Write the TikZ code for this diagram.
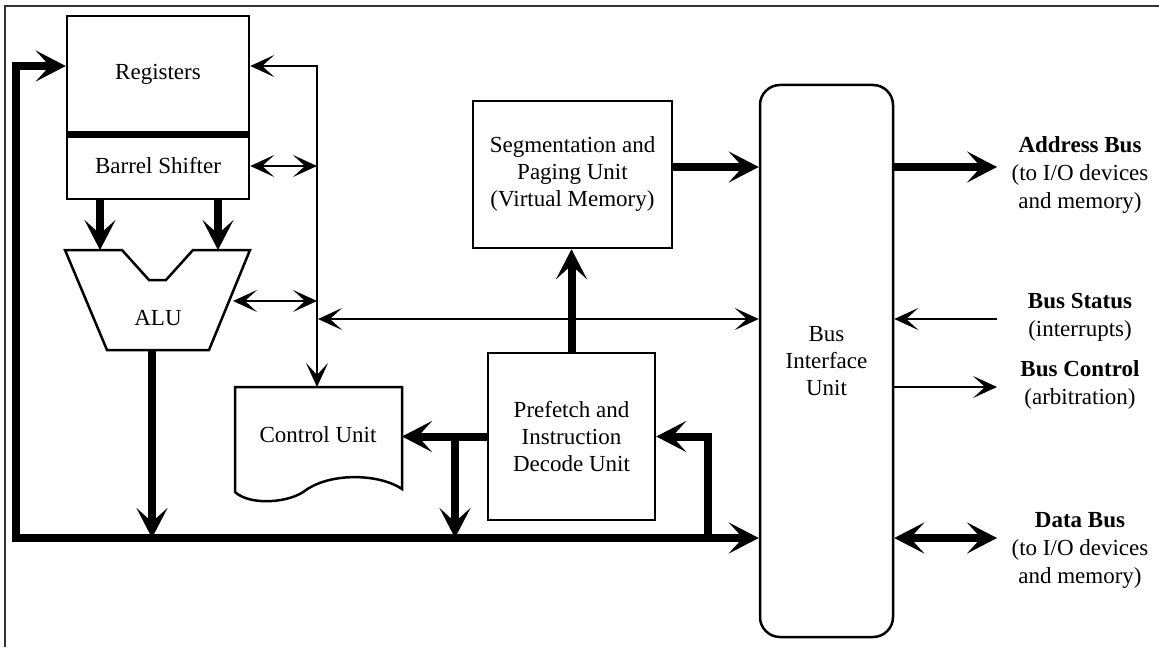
\documentclass[tikz,border=0pt]{standalone}
\usepackage{fontspec}
\setmainfont{Liberation Serif}
\usetikzlibrary{arrows.meta,positioning}
\definecolor{framegray}{HTML}{333333}

\begin{document}
\begin{tikzpicture}[x=0.5pt,y=-0.5pt,
    font=\fontsize{11.5pt}{13.5pt}\selectfont,
    unit/.style={draw,line width=1.25pt,align=center,inner sep=0pt},
    wire/.style={line width=1pt,>={Stealth[length=12pt,width=11pt,inset=6pt]}},
    bus/.style={line width=4pt,>={Stealth[length=15pt,width=15.5pt,inset=7pt]}},
    buslabel/.style={align=center,font=\fontsize{11.5pt}{14pt}\selectfont}]
  \useasboundingbox (0,0) rectangle (1159,647);
  \draw[framegray,line width=1pt] (5,647) -- (5,6) -- (1159,6);

  % registers, shifter and ALU
  \node[unit,minimum width=91pt,minimum height=58.5pt] (reg) at (158,74.5) {Registers};
  \node[unit,minimum width=91pt,minimum height=33pt] (bs) at (158,166) {Barrel Shifter};
  \draw[line width=3.5pt] (reg.south west) -- (reg.south east);
  \draw[line width=1.25pt] (65,250) -- (122,250) -- (149,280) -- (166,280) -- (193,250)
    -- (250,250) -- (209,350) -- (107,350) -- cycle;
  \node (alu) at (158,318) {ALU};
  \coordinate (aluTop) at (158,250);
  \coordinate (aluOut) at (152,350);
  \coordinate (aluR) at (233,301);

  % control unit
  \draw[line width=1.25pt] (235,492) -- (235,387) -- (402,387) -- (402,489)
    .. controls (380,474) and (332,472) .. (306,490)
    .. controls (290,503) and (250,506) .. (235,492) -- cycle;
  \node (cu) at (318,435) {Control Unit};
  \coordinate (cuTop) at (317,387);
  \coordinate (cuR) at (402,437);

  % prefetch, paging, bus interface
  \node[unit,minimum width=83.5pt,minimum height=83.5pt] (pf) at (571.5,436.5) {Prefetch and\\Instruction\\Decode Unit};
  \node[unit,minimum width=99.5pt,minimum height=73.5pt] (seg) at (572.5,174.5) {Segmentation and\\Paging Unit\\(Virtual Memory)};
  \node[unit,rounded corners=10pt,minimum width=66.5pt,minimum height=276pt] (biu) at (826.5,361) {Bus\\Interface\\Unit};

  % outside buses
  \node[buslabel] (addr) at (1080,175) {\textbf{Address Bus}\\(to I/O devices\\and memory)};
  \node[buslabel] (stat) at (1080,317) {\textbf{Bus Status}\\(interrupts)};
  \node[buslabel] (ctrl) at (1080,385) {\textbf{Bus Control}\\(arbitration)};
  \node[buslabel] (data) at (1080,550) {\textbf{Data Bus}\\(to I/O devices\\and memory)};
  \coordinate (addrEnd) at (997,167);
  \coordinate (statEnd) at (997,319);
  \coordinate (ctrlEnd) at (997,387);
  \coordinate (dataEnd) at (997,538);

  \coordinate (busL) at (16,538);
  \coordinate (ctlMid) at (318,319);
  \coordinate (br) at (455,437);
  \coordinate (fb) at (708,538);

  % internal data bus
  \draw[bus,<->] ([yshift=4.25pt]reg.west) -| (busL) -- (busL -| biu.west);
  \draw[bus,->] (aluOut) -- (aluOut |- busL);
  \foreach \dx in {-29pt,30pt}
    \draw[bus,->] ([xshift=\dx]bs.south) -- ([xshift=\dx]aluTop);

  % control lines
  \draw[wire,<->] ([yshift=4.25pt]reg.east) -| (cuTop);
  \draw[wire,<->] (bs.east) -- (bs.east -| cuTop);
  \draw[wire,<->] (aluR) -- (aluR -| cuTop);
  \draw[wire,<->] (ctlMid) -- (ctlMid -| biu.west);

  \draw[bus,->] ([yshift=3.75pt]seg.east) -- ([yshift=3.75pt]seg.east -| biu.west);
  \draw[bus,->] (pf.north) -- (pf.north |- seg.south);
  \draw[bus,->] (pf.west) -- (pf.west -| cuR);
  \draw[bus,->] (br) -- (br |- busL);
  \draw[bus,->] (fb) |- (pf.east);

  \draw[bus,->] (addrEnd -| biu.east) -- (addrEnd);
  \draw[wire,->] (statEnd) -- (statEnd -| biu.east);
  \draw[wire,->] (ctrlEnd -| biu.east) -- (ctrlEnd);
  \draw[bus,<->] (dataEnd -| biu.east) -- (dataEnd);
\end{tikzpicture}
\end{document}
